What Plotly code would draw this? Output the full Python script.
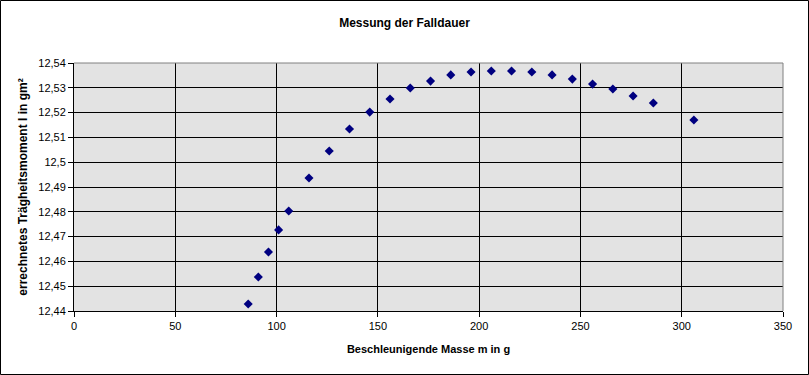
import plotly.graph_objects as go

# Data
mass_g = [86, 91, 96, 101, 106, 116, 126, 136, 146, 156, 166, 176, 186, 196,
          206, 216, 226, 236, 246, 256, 266, 276, 286, 306]
inertia = [12.4428, 12.4537, 12.4638, 12.4727, 12.4803, 12.4936, 12.5045,
           12.5134, 12.5202, 12.5255, 12.5299, 12.5327, 12.5352, 12.5364,
           12.5368, 12.5368, 12.5364, 12.5352, 12.5335, 12.5315, 12.5295,
           12.5267, 12.5239, 12.5170]

x_ticks = [0, 50, 100, 150, 200, 250, 300, 350]
y_ticks = [12.44, 12.45, 12.46, 12.47, 12.48, 12.49, 12.50, 12.51, 12.52, 12.53, 12.54]
y_tick_labels = ["12,44", "12,45", "12,46", "12,47", "12,48", "12,49", "12,5",
                 "12,51", "12,52", "12,53", "12,54"]

W, H = 809, 375
ML, MR, MT, MB = 74, 26, 63, 64
PW, PH = W - ML - MR, H - MT - MB

fig = go.Figure()
fig.add_trace(go.Scatter(
    x=mass_g, y=inertia, mode="markers",
    marker=dict(symbol="diamond", size=7, color="#000080",
                line=dict(width=0)),
    showlegend=False, hoverinfo="x+y",
))

font = "Arial, Liberation Sans, sans-serif"
fig.update_layout(
    width=W, height=H,
    margin=dict(l=ML, r=MR, t=MT, b=MB),
    paper_bgcolor="white", plot_bgcolor="#E3E3E3",
    font=dict(family=font, size=11, color="black"),
    title=dict(text="<b>Messung der Falldauer</b>", x=0.5, xanchor="center",
               y=1 - 23 / H, yanchor="middle",
               font=dict(family=font, size=12, color="black")),
    xaxis=dict(range=[0, 350], tickvals=x_ticks, showgrid=True,
               gridcolor="black", gridwidth=1, zeroline=False,
               showline=True, linecolor="black", linewidth=1,
               ticks="outside", ticklen=5, tickcolor="black",
               tickfont=dict(size=11),
               title=dict(text="<b>Beschleunigende Masse m in g</b>",
                          font=dict(size=11), standoff=14)),
    yaxis=dict(range=[12.44, 12.54], tickvals=y_ticks, ticktext=y_tick_labels,
               showgrid=True, gridcolor="black", gridwidth=1, zeroline=False,
               showline=True, linecolor="black", linewidth=1,
               ticks="outside", ticklen=5, tickcolor="black",
               tickfont=dict(size=11),
               title=dict(text="<b>errechnetes Trägheitsmoment I in gm²</b>",
                          font=dict(size=12), standoff=8)),
)

# gray top and right borders of plot area
fig.add_shape(type="line", xref="paper", yref="paper", x0=0, x1=1, y0=1, y1=1,
              line=dict(color="#808080", width=1), layer="above")
fig.add_shape(type="line", xref="paper", yref="paper", x0=1, x1=1, y0=0, y1=1,
              line=dict(color="#808080", width=1), layer="above")
# outer chart border
fig.add_shape(type="rect", xref="paper", yref="paper",
              x0=(0.5 - ML) / PW, x1=(W - 0.5 - ML) / PW,
              y0=-(MB - 0.5) / PH, y1=1 + (MT - 0.5) / PH,
              line=dict(color="black", width=1), fillcolor="rgba(0,0,0,0)",
              layer="above")

fig.write_html("out.html")
